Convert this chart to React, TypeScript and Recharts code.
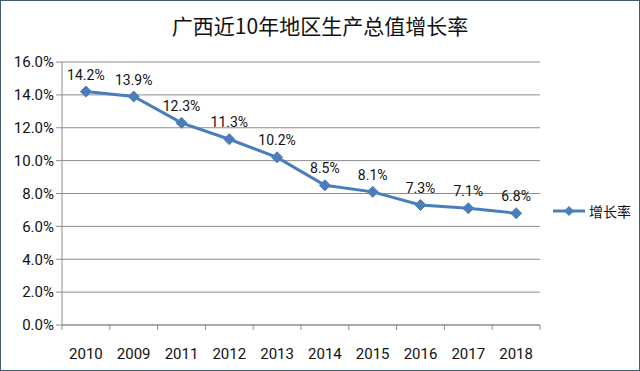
import { CartesianGrid, LabelList, Line, LineChart, XAxis, YAxis } from "recharts";

const years = ["2010", "2009", "2011", "2012", "2013", "2014", "2015", "2016", "2017", "2018"];
const growth = [14.2, 13.9, 12.3, 11.3, 10.2, 8.5, 8.1, 7.3, 7.1, 6.8];
const yTicks = [0, 2, 4, 6, 8, 10, 12, 14, 16];

const data = years.map((year, i) => ({ year, rate: growth[i] }));

const LINE = "#4a7ebb";
const GRID = "#8c8c8c";
const FONT = "Roboto, 'Noto Sans', sans-serif";

const BAND = (540 - 62) / years.length;

function Diamond(props: any) {
  const { cx, cy } = props;
  if (cx == null || cy == null) return null;
  const r = 5.5;
  return (
    <polygon
      points={`${cx},${cy - r} ${cx + r},${cy} ${cx},${cy + r} ${cx - r},${cy}`}
      fill={LINE}
      stroke={LINE}
    />
  );
}

function YearTick(props: any) {
  const { x, y, payload, index } = props;
  return (
    <g>
      <line x1={x - BAND / 2} y1={y - 8} x2={x - BAND / 2} y2={y - 3} stroke={GRID} />
      {index === years.length - 1 && (
        <line x1={x + BAND / 2} y1={y - 8} x2={x + BAND / 2} y2={y - 3} stroke={GRID} />
      )}
      <text x={x} y={y + 26} textAnchor="middle" fontSize={15} fill="#111" fontFamily={FONT}>
        {payload.value}
      </text>
    </g>
  );
}

function LegendBox() {
  return (
    <div
      style={{
        position: "absolute",
        left: 552,
        top: 200,
        display: "flex",
        alignItems: "center",
        fontFamily: "'Noto Sans CJK SC', sans-serif",
        fontSize: 14,
        color: "#111",
      }}
    >
      <svg width={34} height={12}>
        <line x1={0} y1={6} x2={32} y2={6} stroke={LINE} strokeWidth={3} />
        <polygon points="16,1 21,6 16,11 11,6" fill={LINE} />
      </svg>
      <span style={{ marginLeft: 2 }}>增长率</span>
    </div>
  );
}

export default function App() {
  return (
    <div
      style={{
        position: "absolute",
        left: 0,
        top: 0,
        width: 640,
        height: 371,
        boxSizing: "border-box",
        border: "1px solid #3e5a74",
        background: "#fff",
      }}
    >
      <div
        style={{
          position: "absolute",
          top: 9,
          width: "100%",
          textAlign: "center",
          fontFamily: "'Noto Sans CJK SC', sans-serif",
          fontSize: 21,
          color: "#111",
        }}
      >
        广西近10年地区生产总值增长率
      </div>
      <div style={{ position: "absolute", left: -1, top: -1 }}>
        <LineChart
          width={640}
          height={371}
          data={data}
          margin={{ top: 62, right: 100, left: 0, bottom: 0 }}
        >
          <CartesianGrid vertical={false} stroke={GRID} />
          <XAxis
            dataKey="year"
            axisLine={{ stroke: GRID }}
            tickLine={false}
            tick={<YearTick />}
            height={46}
            interval={0}
            padding={{ left: BAND / 2, right: BAND / 2 }}
          />
          <YAxis
            domain={[0, 16]}
            ticks={yTicks}
            width={62}
            axisLine={{ stroke: GRID }}
            tickLine={{ stroke: GRID }}
            tickSize={6}
            tick={{ fontSize: 15, fill: "#111", fontFamily: FONT }}
            tickFormatter={(v: number) => `${v.toFixed(1)}%`}
          />
          <Line
            dataKey="rate"
            stroke={LINE}
            strokeWidth={3}
            dot={<Diamond />}
            activeDot={false}
            isAnimationActive={false}
          >
            <LabelList
              dataKey="rate"
              position="top"
              offset={12}
              formatter={(v: any) => `${Number(v).toFixed(1)}%`}
              style={{ fontSize: 14, fill: "#111", fontFamily: FONT }}
            />
          </Line>
        </LineChart>
      </div>
      <LegendBox />
    </div>
  );
}
